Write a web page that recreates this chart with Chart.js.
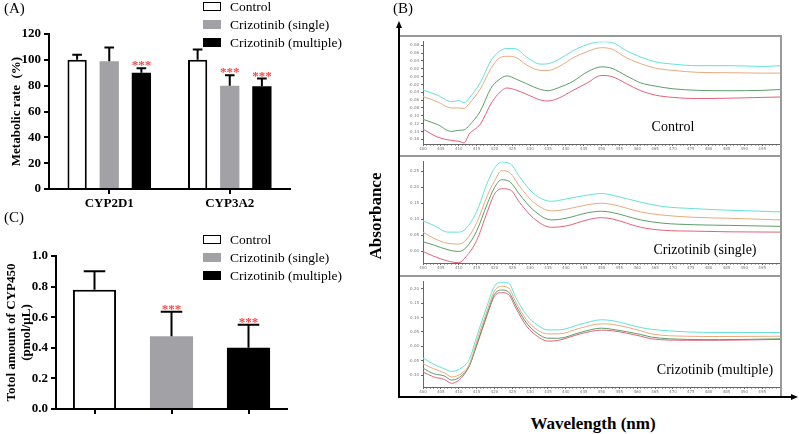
<!DOCTYPE html>
<html>
<head>
<meta charset="utf-8">
<script src="https://cdn.jsdelivr.net/npm/chart.js@4.4.1/dist/chart.umd.min.js"></script>
<style>
  body { margin: 0; background: #fff; font-family: "Liberation Serif", serif; }
  #page { position: relative; width: 799px; height: 434px; overflow: hidden; }
  .abs { position: absolute; }
  .lbl { position: absolute; white-space: nowrap; color: #000; line-height: 1; }
  .line { position: absolute; background: #999; }
  .ax { position: absolute; background: #000; }
  .legend-row { position: absolute; height: 14px; font-size: 13.5px; white-space: nowrap; }
  .legend-row span.box { position: absolute; left: 0; top: 2px; width: 18px; height: 9px; box-sizing: border-box; }
  .legend-row span.txt { position: absolute; left: 27px; top: -1px; }
</style>
</head>
<body>
<div id="page">
  <div class="abs" style="left:0;top:0"><canvas id="chartA" width="300" height="212"></canvas></div>
  <div class="abs" style="left:0;top:212px"><canvas id="chartC" width="300" height="222"></canvas></div>
  <div class="abs" style="left:400px;top:37px"><canvas id="spec1" width="381" height="118"></canvas></div>
  <div class="abs" style="left:400px;top:157px"><canvas id="spec2" width="381" height="118"></canvas></div>
  <div class="abs" style="left:400px;top:277px"><canvas id="spec3" width="381" height="120"></canvas></div>

  <!-- frame of panel B -->
  <div class="line" style="left:399px;top:35px;width:383px;height:2px"></div>
  <div class="line" style="left:780px;top:35px;width:2px;height:362px"></div>
  <div class="line" style="left:399px;top:155px;width:383px;height:2px"></div>
  <div class="line" style="left:399px;top:275px;width:383px;height:2px"></div>
  <div class="ax" style="left:398px;top:27px;width:2px;height:371px"></div>
  <div class="abs" style="left:396px;top:21px;width:0;height:0;border-left:3px solid transparent;border-right:3px solid transparent;border-bottom:7px solid #000"></div>
  <div class="ax" style="left:398px;top:396px;width:394px;height:2px"></div>
  <div class="abs" style="left:791px;top:394px;width:0;height:0;border-top:3px solid transparent;border-bottom:3px solid transparent;border-left:7px solid #000"></div>

  <div class="lbl" style="left:4px;top:1px;font-size:15px">(A)</div>
  <div class="lbl" style="left:393px;top:1px;font-size:15px">(B)</div>
  <div class="lbl" style="left:4px;top:210px;font-size:15px">(C)</div>

  <div class="lbl" style="left:673px;top:127px;font-size:14px;transform:translate(-50%,-50%)">Control</div>
  <div class="lbl" style="left:705px;top:250px;font-size:14px;transform:translate(-50%,-50%)">Crizotinib (single)</div>
  <div class="lbl" style="left:715px;top:370px;font-size:14px;transform:translate(-50%,-50%)">Crizotinib (multiple)</div>
  <div class="lbl" style="left:375px;top:216px;font-size:17px;font-weight:bold;transform:translate(-50%,-50%) rotate(-90deg)">Absorbance</div>
  <div class="lbl" style="left:593px;top:423px;font-size:17px;font-weight:bold;transform:translate(-50%,-50%)">Wavelength (nm)</div>
</div>

<script>
const FONT = 'Liberation Serif';

// ---- (A) metabolic rate, % of control ----
const groups = ['Control', 'Crizotinib (single)', 'Crizotinib (multiple)'];
const enzymes = ['CYP2D1', 'CYP3A2'];
const rateControl = [100, 100];
const rateSingle = [99, 80];
const rateMultiple = [90, 79.5];
const rateControlSd = [4, 8];
const rateSingleSd = [10.5, 8];
const rateMultipleSd = [3.5, 6];
const rateSingleStars = [false, true];
const rateMultipleStars = [true, true];
const rateTicks = [0, 20, 40, 60, 80, 100, 120];

// ---- (C) total CYP450 (pmol/uL) ----
const totalAmount = [0.78, 0.475, 0.40];
const totalSd = [0.12, 0.16, 0.15];
const totalStars = [false, true, true];
const totalTicks = [0, 0.2, 0.4, 0.6, 0.8, 1.0];

// ---- (B) absorbance spectra ----
const wlTicks = [400, 405, 410, 415, 420, 425, 430, 435, 440, 445, 450, 455, 460, 465, 470, 475, 480, 485, 490, 495];

const ctrlWl = [400, 404, 408, 410, 411.5, 413, 416, 419, 421, 423.5, 426, 429, 433, 435, 438, 442, 446, 450, 453, 457, 461, 465, 470, 477, 486, 495, 500];
const ctrlCyan = [-0.034, -0.047, -0.064, -0.061, -0.067, -0.054, -0.016, 0.040, 0.062, 0.072, 0.071, 0.050, 0.032, 0.033, 0.044, 0.066, 0.082, 0.089, 0.087, 0.066, 0.050, 0.038, 0.032, 0.028, 0.028, 0.026, 0.028];
const ctrlOrange = [-0.051, -0.064, -0.080, -0.080, -0.081, -0.068, -0.032, 0.020, 0.045, 0.052, 0.049, 0.030, 0.016, 0.016, 0.025, 0.048, 0.064, 0.074, 0.070, 0.048, 0.033, 0.022, 0.016, 0.011, 0.010, 0.009, 0.009];
const ctrlGreen = [-0.109, -0.122, -0.140, -0.137, -0.136, -0.124, -0.089, -0.030, -0.010, 0.002, -0.006, -0.018, -0.033, -0.036, -0.028, -0.012, 0.012, 0.025, 0.021, 0.002, -0.016, -0.024, -0.031, -0.035, -0.036, -0.035, -0.033];
const ctrlRed = [-0.134, -0.154, -0.163, -0.165, -0.169, -0.146, -0.122, -0.070, -0.045, -0.029, -0.034, -0.045, -0.060, -0.062, -0.055, -0.035, -0.016, 0.003, 0.000, -0.018, -0.036, -0.047, -0.053, -0.056, -0.055, -0.053, -0.052];
const ctrlTicks = [-0.16, -0.14, -0.12, -0.10, -0.08, -0.06, -0.04, -0.02, 0.00, 0.02, 0.04, 0.06, 0.08];

const singleWl = [400, 403, 407, 410, 412, 415, 418, 420, 422, 424.5, 427, 431, 436, 440, 446, 450, 453, 461, 467, 476, 486, 500];
const singleCyan = [0.095, 0.081, 0.060, 0.060, 0.071, 0.123, 0.213, 0.258, 0.278, 0.272, 0.233, 0.180, 0.156, 0.163, 0.175, 0.180, 0.175, 0.153, 0.140, 0.133, 0.128, 0.123];
const singleOrange = [0.060, 0.041, 0.025, 0.023, 0.035, 0.088, 0.173, 0.218, 0.251, 0.243, 0.203, 0.153, 0.126, 0.131, 0.145, 0.150, 0.146, 0.123, 0.113, 0.106, 0.103, 0.098];
const singleGreen = [0.030, 0.020, 0.005, 0.000, 0.011, 0.063, 0.148, 0.198, 0.223, 0.215, 0.178, 0.128, 0.098, 0.103, 0.120, 0.125, 0.121, 0.098, 0.088, 0.083, 0.081, 0.078];
const singleRed = [0.000, -0.015, -0.030, -0.035, -0.017, 0.033, 0.123, 0.178, 0.195, 0.191, 0.153, 0.103, 0.075, 0.079, 0.098, 0.105, 0.101, 0.075, 0.066, 0.063, 0.061, 0.060];
const singleTicks = [0.00, 0.05, 0.10, 0.15, 0.20, 0.25];

const multiWl = [400, 403, 406, 408, 411, 413, 415, 418, 420, 422, 424, 426, 429, 432, 435, 438, 444, 450, 453, 461, 464, 474, 483, 500];
const multiCyan = [-0.040, -0.062, -0.078, -0.087, -0.073, -0.045, 0.032, 0.142, 0.208, 0.222, 0.219, 0.169, 0.109, 0.074, 0.057, 0.057, 0.076, 0.092, 0.089, 0.065, 0.059, 0.050, 0.048, 0.048];
const multiOrange = [-0.060, -0.078, -0.092, -0.106, -0.092, -0.062, 0.015, 0.125, 0.191, 0.208, 0.202, 0.153, 0.092, 0.057, 0.043, 0.043, 0.063, 0.078, 0.076, 0.054, 0.043, 0.035, 0.034, 0.035];
const multiGreen = [-0.076, -0.095, -0.103, -0.117, -0.100, -0.067, 0.004, 0.114, 0.180, 0.195, 0.188, 0.142, 0.081, 0.045, 0.028, 0.028, 0.048, 0.063, 0.059, 0.041, 0.032, 0.024, 0.023, 0.026];
const multiRed = [-0.089, -0.106, -0.115, -0.128, -0.106, -0.067, 0.001, 0.109, 0.173, 0.186, 0.179, 0.133, 0.070, 0.035, 0.018, 0.021, 0.043, 0.056, 0.054, 0.035, 0.026, 0.021, 0.021, 0.024];
const multiTicks = [-0.10, -0.05, 0.00, 0.05, 0.10, 0.15, 0.20];

const barFill = ['#ffffff', '#a2a2a6', '#000000'];
const lineColors = ['#63e2d6', '#e8aa7e', '#5c9e68', '#e2627a'];

// error bars + significance stars on top of each bar
const errorBarPlugin = {
  id: 'errorBars',
  afterDatasetsDraw(chart) {
    const ctx = chart.ctx;
    const yScale = chart.scales.y;
    chart.data.datasets.forEach((ds, i) => {
      chart.getDatasetMeta(i).data.forEach((bar, j) => {
        const top = yScale.getPixelForValue(ds.data[j] + ds.sd[j]);
        const half = bar.width / 4;
        ctx.save();
        ctx.strokeStyle = '#000';
        ctx.lineWidth = 2;
        ctx.beginPath();
        ctx.moveTo(bar.x, bar.y);
        ctx.lineTo(bar.x, top);
        ctx.moveTo(bar.x - half, top);
        ctx.lineTo(bar.x + half, top);
        ctx.stroke();
        if (ds.stars && ds.stars[j]) {
          ctx.fillStyle = '#ff4646';
          ctx.font = 'bold 13px "' + FONT + '"';
          ctx.textAlign = 'center';
          ctx.textBaseline = 'alphabetic';
          ctx.fillText('***', bar.x, top + 1);
        }
        ctx.restore();
      });
    });
  }
};

function barScales(yMin, yMax, yTicks, yFmt, yTitle, titlePad, yWidth, xHeight, showX) {
  return {
    x: {
      ticks: { display: showX, color: '#000', padding: 2, font: { family: FONT, size: 13, weight: 'bold' } },
      grid: { display: true, drawOnChartArea: false, offset: false, color: '#000', lineWidth: 2, tickLength: 5 },
      border: { color: '#000', width: 2 },
      afterFit: s => { s.height = xHeight; }
    },
    y: {
      min: yMin, max: yMax,
      afterBuildTicks: s => { s.ticks = yTicks.map(v => ({ value: v })); },
      ticks: { color: '#000', padding: 3, font: { family: FONT, size: 13, weight: 'bold' }, callback: yFmt },
      grid: { drawOnChartArea: false, color: '#000', lineWidth: 2, tickLength: 5 },
      border: { color: '#000', width: 2 },
      title: { display: true, text: yTitle, color: '#000', padding: { top: titlePad, bottom: 0 },
               font: { family: FONT, size: 13, weight: 'bold', lineHeight: 1.15 } },
      afterFit: s => { s.width = yWidth; }
    }
  };
}

new Chart(document.getElementById('chartA'), {
  type: 'bar',
  data: {
    labels: enzymes,
    datasets: [
      { label: groups[0], data: rateControl, sd: rateControlSd, backgroundColor: barFill[0], borderColor: '#000', borderWidth: 2 },
      { label: groups[1], data: rateSingle, sd: rateSingleSd, stars: rateSingleStars, backgroundColor: barFill[1], borderWidth: 0 },
      { label: groups[2], data: rateMultiple, sd: rateMultipleSd, stars: rateMultipleStars, backgroundColor: barFill[2], borderWidth: 0 }
    ]
  },
  options: {
    responsive: false, animation: false, events: [],
    categoryPercentage: 0.8, barPercentage: 0.6,
    layout: { padding: { top: 34, right: 10, left: 0, bottom: 0 } },
    plugins: { legend: { display: false }, tooltip: { enabled: false } },
    scales: barScales(0, 120, rateTicks, v => String(v), 'Metabolic rate  (%)', 9.5, 49, 23, true)
  },
  plugins: [errorBarPlugin]
});

new Chart(document.getElementById('chartC'), {
  type: 'bar',
  data: {
    labels: groups,
    datasets: [
      { data: totalAmount, sd: totalSd, stars: totalStars, backgroundColor: barFill,
        borderColor: '#000', borderWidth: [2, 0, 0] }
    ]
  },
  options: {
    responsive: false, animation: false, events: [],
    categoryPercentage: 0.8, barPercentage: 0.7,
    layout: { padding: { top: 44, right: 13, left: 0, bottom: 0 } },
    plugins: { legend: { display: false }, tooltip: { enabled: false } },
    scales: barScales(0, 1.0, totalTicks, v => v.toFixed(1), ['Totol amount of CYP450', '(pmol/\u03bcL)'], 4.5, 56, 25, false)
  },
  plugins: [errorBarPlugin]
});

function drawSpectrum(id, wl, curves, yMin, yMax, yTicks, padTop, xHeight) {
  new Chart(document.getElementById(id), {
    type: 'line',
    data: {
      datasets: curves.map((vals, k) => ({
        data: vals.map((v, i) => ({ x: wl[i], y: v })),
        borderColor: lineColors[k], borderWidth: 1, pointRadius: 0,
        cubicInterpolationMode: 'monotone'
      }))
    },
    options: {
      responsive: false, animation: false, events: [],
      layout: { padding: { top: padTop, right: 1, left: 0, bottom: 0 } },
      plugins: { legend: { display: false }, tooltip: { enabled: false } },
      scales: {
        x: {
          type: 'linear', min: 400, max: 500,
          afterBuildTicks: s => {
            const t = [];
            for (let v = 400; v < 500; v++) t.push({ value: v });
            s.ticks = t;
          },
          ticks: { autoSkip: false, maxRotation: 0, color: '#777', padding: 1,
                   font: { family: 'DejaVu Sans', size: 4 },
                   callback: v => wlTicks.includes(v) ? String(v) : '' },
          grid: { drawOnChartArea: false, tickLength: 2,
                  color: c => (c.tick && c.tick.value % 5 === 0) ? '#666' : '#aaa' },
          border: { color: '#666', width: 1 },
          afterFit: s => { s.height = xHeight; }
        },
        y: {
          min: yMin, max: yMax,
          afterBuildTicks: s => { s.ticks = yTicks.map(v => ({ value: v })); },
          ticks: { color: '#777', padding: 2, font: { family: 'DejaVu Sans', size: 4 },
                   callback: v => v.toFixed(2) },
          grid: { drawOnChartArea: false, tickLength: 2, color: '#666' },
          border: { color: '#666', width: 1 },
          afterFit: s => { s.width = 23; }
        }
      }
    }
  });
}

drawSpectrum('spec1', ctrlWl, [ctrlCyan, ctrlOrange, ctrlGreen, ctrlRed], -0.172, 0.09, ctrlTicks, 1, 11);
drawSpectrum('spec2', singleWl, [singleCyan, singleOrange, singleGreen, singleRed], -0.036, 0.28, singleTicks, 1, 12);
drawSpectrum('spec3', multiWl, [multiCyan, multiOrange, multiGreen, multiRed], -0.141, 0.225, multiTicks, 0, 10);

// legends for (A) and (C)
function addLegend(left, top) {
  const page = document.getElementById('page');
  groups.forEach((g, i) => {
    const row = document.createElement('div');
    row.className = 'legend-row';
    row.style.left = left + 'px';
    row.style.top = (top + i * 18) + 'px';
    const box = document.createElement('span');
    box.className = 'box';
    box.style.background = barFill[i];
    if (i === 0) box.style.border = '1.5px solid #000';
    const txt = document.createElement('span');
    txt.className = 'txt';
    txt.textContent = g;
    row.appendChild(box);
    row.appendChild(txt);
    page.appendChild(row);
  });
}
addLegend(203, 0);
addLegend(203, 233);
</script>
</body>
</html>
